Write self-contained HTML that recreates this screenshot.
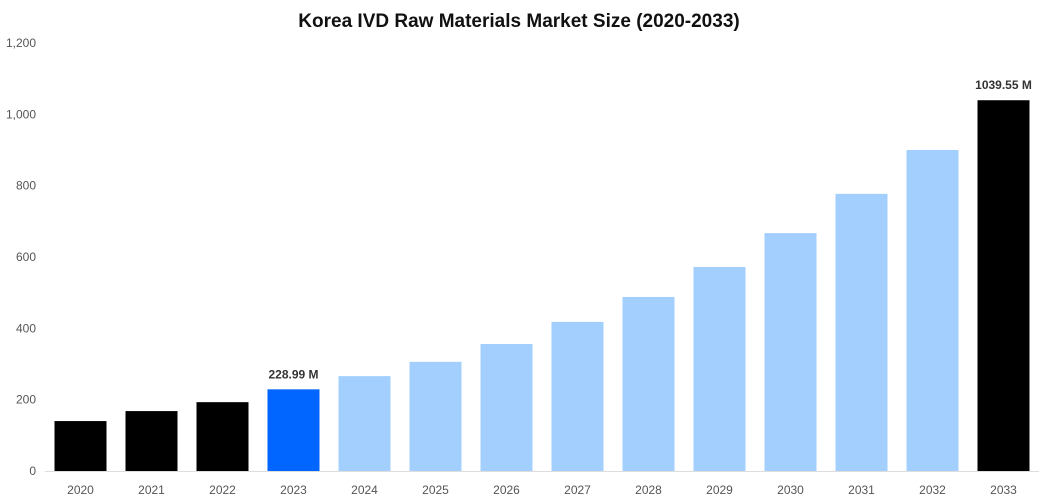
<!DOCTYPE html>
<html><head><meta charset="utf-8"><style>
body{margin:0;background:#fff;font-family:"Liberation Sans",Arial,sans-serif}
svg{display:block}
</style></head><body>
<svg id="chart" width="1039" height="500">
<text x="519" y="27" text-anchor="middle" font-size="19" font-weight="bold" fill="#111">Korea IVD Raw Materials Market Size (2020-2033)</text>
<g id="yaxis"></g>
<g id="bars"></g>
<g id="xaxis"></g>
</svg>
<script>
const categories=["2020","2021","2022","2023","2024","2025","2026","2027","2028","2029","2030","2031","2032","2033"];
const values=[140,168,193,228.99,266,306,356,418,488,572,667,777,900,1039.55];
const colors=["#000","#000","#000","#0066ff","#a3cfff","#a3cfff","#a3cfff","#a3cfff","#a3cfff","#a3cfff","#a3cfff","#a3cfff","#a3cfff","#000"];
const labels=[null,null,null,"228.99 M",null,null,null,null,null,null,null,null,null,"1039.55 M"];
const yTicks=[0,200,400,600,800,1000,1200];
const NS="http://www.w3.org/2000/svg";
const x0=45,x1=1039,yBase=471,yTop=43,yMax=1200;
const band=(x1-x0)/categories.length,bw=52;
const y=v=>yBase-(v/yMax)*(yBase-yTop);
const xc=i=>x0+band*(i+0.5);
function mk(tag,attrs,parent,text){const e=document.createElementNS(NS,tag);for(const k in attrs)e.setAttribute(k,attrs[k]);if(text!=null)e.textContent=text;parent.appendChild(e);return e;}
const ya=document.getElementById('yaxis'),bg=document.getElementById('bars'),xa=document.getElementById('xaxis');
yTicks.forEach(t=>{
  const e=mk('text',{x:36,y:y(t)+4,'text-anchor':'end','font-size':12,fill:'#555'},ya,t.toLocaleString('en-US'));
  
  
});
const ax=mk('line',{x1:x0,x2:x1,y1:yBase+0.5,y2:yBase+0.5,stroke:'#ddd'},xa);


categories.forEach((c,i)=>{
  const r=mk('rect',{x:xc(i)-bw/2,y:y(values[i]),width:bw,height:yBase-y(values[i]),fill:colors[i]},bg);
  
  
  const t=mk('text',{x:xc(i),y:494,'text-anchor':'middle','font-size':12,fill:'#555'},xa,c);
  
  
  if(labels[i]){
    const l=mk('text',{x:xc(i),y:y(values[i])-11,'text-anchor':'middle','font-size':12,'font-weight':'bold',fill:'#333'},bg,labels[i]);
    
    
  }
});
</script>
</body></html>
